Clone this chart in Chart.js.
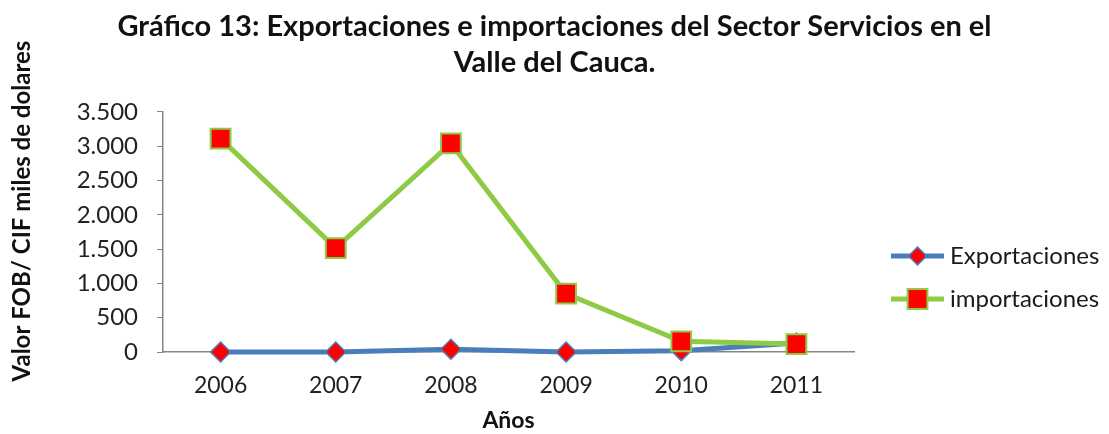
<!DOCTYPE html>
<html>
<head>
<meta charset="utf-8">
<script src="https://cdn.jsdelivr.net/npm/chart.js@4.4.1/dist/chart.umd.min.js"></script>
<style>
  html, body { margin: 0; padding: 0; background: #fff; }
  #wrap { width: 1109px; height: 434px; }
</style>
</head>
<body>
<div id="wrap"><canvas id="c" width="1109" height="434"></canvas></div>
<script>
const years = ['2006', '2007', '2008', '2009', '2010', '2011'];
const exportaciones = [0, 0, 40, 0, 20, 130];
const importaciones = [3110, 1515, 3040, 850, 155, 115];
const yTicks = [0, 500, 1000, 1500, 2000, 2500, 3000, 3500];
const titleLines = ['Gráfico 13: Exportaciones e importaciones del Sector Servicios en el', 'Valle del Cauca.'];
const yTitle = 'Valor FOB/ CIF miles de dolares';
const xTitle = 'Años';
const seriesNames = ['Exportaciones', 'importaciones'];

const FONT = "Lato, 'Open Sans', sans-serif";
const BLUE = '#4A7EBB';
const GREEN = '#8DCB45';
const RED = '#FF0000';
const AXIS = '#868686';

function fmt(v) {
  return String(v).replace(/\B(?=(\d{3})+(?!\d))/g, '.');
}

const legendPlugin = {
  id: 'excelLegend',
  afterDraw(chart) {
    const ctx = chart.ctx;
    const ca = chart.chartArea;
    const x0 = ca.right + 37, x1 = ca.right + 90;
    const ys = [256, 299];
    chart.data.datasets.forEach((ds, i) => {
      const y = ys[i];
      ctx.save();
      ctx.strokeStyle = ds.borderColor;
      ctx.lineWidth = ds.borderWidth;
      ctx.beginPath();
      ctx.moveTo(x0, y);
      ctx.lineTo(x1, y);
      ctx.stroke();
      ctx.fillStyle = ds.pointBackgroundColor;
      ctx.strokeStyle = ds.pointBorderColor;
      ctx.lineWidth = ds.pointBorderWidth;
      Chart.helpers.drawPoint(ctx, {
        pointStyle: ds.pointStyle,
        rotation: 0,
        radius: ds.legendRadius,
        borderWidth: ds.pointBorderWidth
      }, (x0 + x1) / 2, y);
      ctx.fillStyle = '#1a1a1a';
      ctx.font = "24px " + FONT;
      ctx.textBaseline = 'middle';
      ctx.textAlign = 'left';
      ctx.fillText(seriesNames[i], x1 + 6, y);
      ctx.restore();
    });
    // rotated y-axis title
    ctx.save();
    ctx.translate(22, 211);
    ctx.rotate(-Math.PI / 2);
    ctx.fillStyle = '#111';
    ctx.font = "bold 24px " + FONT;
    ctx.textAlign = 'center';
    ctx.textBaseline = 'middle';
    ctx.fillText(yTitle, 0, 0);
    ctx.restore();
  }
};

new Chart(document.getElementById('c'), {
  type: 'line',
  data: {
    labels: years,
    datasets: [
      {
        label: seriesNames[0],
        data: exportaciones,
        borderColor: BLUE,
        borderWidth: 5,
        pointStyle: 'rectRot',
        pointRadius: 10,
        legendRadius: 9,
        pointBackgroundColor: RED,
        pointBorderColor: BLUE,
        pointBorderWidth: 1.5,
        tension: 0,
        clip: false,
        order: 1
      },
      {
        label: seriesNames[1],
        data: importaciones,
        borderColor: GREEN,
        borderWidth: 5,
        pointStyle: 'rect',
        pointRadius: 14,
        legendRadius: 14,
        pointBackgroundColor: RED,
        pointBorderColor: GREEN,
        pointBorderWidth: 2,
        tension: 0,
        clip: false,
        order: 0
      }
    ]
  },
  options: {
    responsive: false,
    animation: false,
    layout: { padding: 0 },
    plugins: {
      legend: { display: false },
      tooltip: { enabled: false },
      title: {
        display: true,
        text: titleLines,
        color: '#111',
        font: { family: FONT, size: 29, weight: 'bold', lineHeight: 1.24 },
        padding: { top: 9, bottom: 31 }
      }
    },
    scales: {
      x: {
        offset: true,
        grid: { display: true, drawOnChartArea: false, drawTicks: false },
        border: { display: true, color: AXIS, width: 1.5 },
        ticks: { color: '#222', font: { family: FONT, size: 23 }, padding: 20 },
        title: {
          display: true, text: xTitle, color: '#111',
          font: { family: FONT, size: 23, weight: 'bold' },
          padding: { top: 6, bottom: 0 }
        },
        afterFit(s) { s.height = 82; }
      },
      y: {
        min: 0, max: 3500,
        afterBuildTicks(s) { s.ticks = yTicks.map(v => ({ value: v })); },
        grid: { display: true, drawOnChartArea: false, drawTicks: true, tickLength: 6, tickColor: AXIS, tickWidth: 1 },
        border: { display: true, color: AXIS, width: 1.5 },
        ticks: { color: '#222', font: { family: FONT, size: 24 }, padding: 19, callback: v => fmt(v) },
        title: { display: false },
        afterFit(s) { s.width = 163; }
      },
      ySpace: {
        position: 'right',
        display: true,
        grid: { display: false },
        border: { display: false },
        ticks: { display: false },
        afterFit(s) { s.width = 255; }
      }
    }
  },
  plugins: [legendPlugin]
});
</script>
</body>
</html>
